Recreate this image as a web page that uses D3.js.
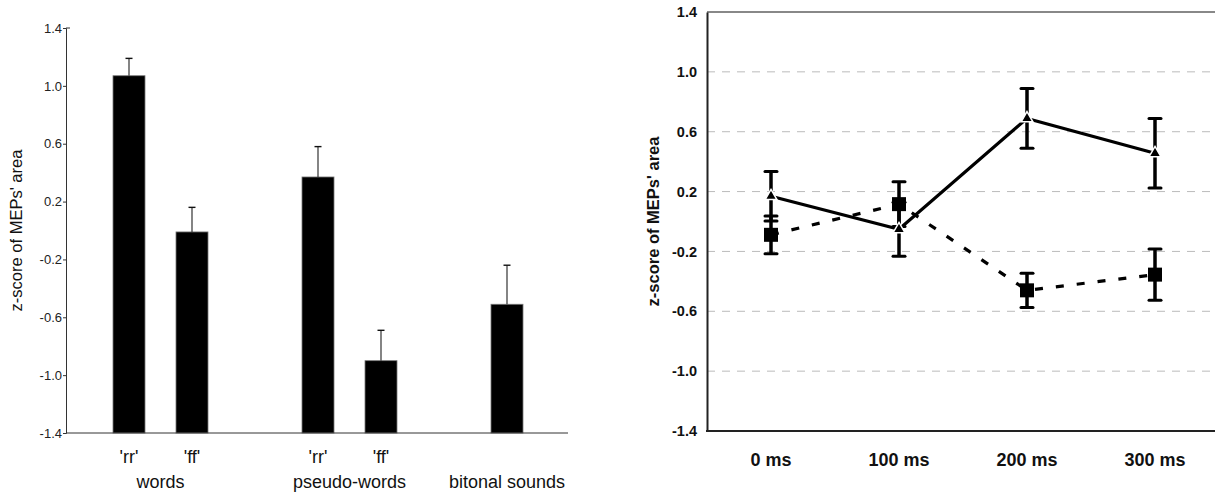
<!DOCTYPE html>
<html>
<head>
<meta charset="utf-8">
<script src="https://cdn.jsdelivr.net/npm/d3@7"></script>
<style>
  body { margin: 0; background: #fff; }
  svg { display: block; }
</style>
</head>
<body>
<svg id="chart" width="1215" height="495"></svg>
<script>
// left panel: bar chart (words / pseudo-words / bitonal sounds)
var slots = ["w_rr", "w_ff", "gap1", "p_rr", "p_ff", "gap2", "bitonal"];
var barKeys = ["w_rr", "w_ff", "p_rr", "p_ff", "bitonal"];
var barTicks = ["'rr'", "'ff'", "'rr'", "'ff'", ""];
var barValues = [1.07, -0.01, 0.37, -0.90, -0.51];
var barErrors = [0.12, 0.17, 0.21, 0.21, 0.27];
var groupNames = ["words", "pseudo-words", "bitonal sounds"];
var groupMembers = [["w_rr", "w_ff"], ["p_rr", "p_ff"], ["bitonal"]];
var yTicks = [-1.4, -1.0, -0.6, -0.2, 0.2, 0.6, 1.0, 1.4];

// right panel: line chart over time
var times = ["0 ms", "100 ms", "200 ms", "300 ms"];
var triMean = [0.169, -0.052, 0.689, 0.456];
var triErr = [0.165, 0.18, 0.2, 0.232];
var sqMean = [-0.089, 0.116, -0.46, -0.355];
var sqErr = [0.126, 0.15, 0.115, 0.172];

var svg = d3.select("#chart");
// plain hyphen for negatives, like the original
var fmt = function(v) { return v.toFixed(1); };

// ---------- left ----------
var L = svg.append("g");
var xL = d3.scalePoint().domain(slots).range([66, 570]).padding(1);
var yL = d3.scaleLinear().domain([-1.4, 1.4]).range([433, 28]);
var bw = 32;

var bars = barKeys.map(function(k, i) {
  return { key: k, tick: barTicks[i], v: barValues[i], e: barErrors[i] };
});

L.selectAll("rect.bar").data(bars).enter().append("rect")
  .attr("x", function(d) { return xL(d.key) - bw / 2; })
  .attr("y", function(d) { return yL(d.v); })
  .attr("width", bw)
  .attr("height", function(d) { return yL(-1.4) - yL(d.v); })
  .attr("fill", "#000")
  .attr("stroke", "#777")
  .attr("stroke-width", 0.8);

L.selectAll("line.err").data(bars).enter().append("line")
  .attr("x1", function(d) { return xL(d.key); })
  .attr("x2", function(d) { return xL(d.key); })
  .attr("y1", function(d) { return yL(d.v); })
  .attr("y2", function(d) { return yL(d.v + d.e); })
  .attr("stroke", "#333").attr("stroke-width", 1.2);
L.selectAll("line.cap").data(bars).enter().append("line")
  .attr("x1", function(d) { return xL(d.key) - 3.5; })
  .attr("x2", function(d) { return xL(d.key) + 3.5; })
  .attr("y1", function(d) { return yL(d.v + d.e); })
  .attr("y2", function(d) { return yL(d.v + d.e); })
  .attr("stroke", "#111").attr("stroke-width", 1.4);

var axL = L.append("g").attr("transform", "translate(66,0)")
  .call(d3.axisLeft(yL).tickValues(yTicks).tickSize(3).tickPadding(1)
    .tickFormat(fmt));
axL.select(".domain").attr("stroke", "#333");
axL.selectAll(".tick line").attr("stroke", "#333");
axL.selectAll("text").attr("font-family", "Liberation Sans, Arial, sans-serif")
  .attr("font-size", 13).attr("fill", "#222");
// small inward nub at the top of the axis
L.append("line").attr("x1", 66).attr("x2", 70).attr("y1", yL(1.4)).attr("y2", yL(1.4))
  .attr("stroke", "#333");

L.append("line").attr("x1", 66).attr("x2", 568)
  .attr("y1", yL(-1.4)).attr("y2", yL(-1.4))
  .attr("stroke", "#333").attr("stroke-width", 1);

L.selectAll("text.tk").data(bars).enter().append("text")
  .attr("x", function(d) { return xL(d.key); })
  .attr("y", 463)
  .attr("text-anchor", "middle")
  .attr("font-family", "Liberation Sans, Arial, sans-serif")
  .attr("font-size", 18).attr("fill", "#111")
  .text(function(d) { return d.tick; });

L.selectAll("text.grp").data(groupNames).enter().append("text")
  .attr("x", function(d, i) { return d3.mean(groupMembers[i], function(k) { return xL(k); }); })
  .attr("y", 488)
  .attr("text-anchor", "middle")
  .attr("font-family", "Liberation Sans, Arial, sans-serif")
  .attr("font-size", 18).attr("fill", "#111")
  .text(function(d) { return d; });

L.append("text")
  .attr("transform", "translate(22," + ((yL(1.4) + yL(-1.4)) / 2) + ") rotate(-90)")
  .attr("text-anchor", "middle")
  .attr("font-family", "Liberation Sans, Arial, sans-serif")
  .attr("font-size", 16.5).attr("fill", "#111")
  .text("z-score of MEPs' area");

// ---------- right ----------
var R = svg.append("g");
var xR = d3.scaleBand().domain(times).range([707, 1219]);
var yR = d3.scaleLinear().domain([-1.4, 1.4]).range([431, 12]);
var cx = function(t) { return xR(t) + xR.bandwidth() / 2; };

// dashed grid
R.selectAll("line.grid").data(yTicks.filter(function(v) { return v > -1.4 && v < 1.4; }))
  .enter().append("line")
  .attr("x1", 707).attr("x2", 1219)
  .attr("y1", function(d) { return yR(d); }).attr("y2", function(d) { return yR(d); })
  .attr("stroke", "#bbb").attr("stroke-width", 1).attr("stroke-dasharray", "8,7");

R.append("line").attr("x1", 707).attr("x2", 1219).attr("y1", yR(1.4)).attr("y2", yR(1.4))
  .attr("stroke", "#888").attr("stroke-width", 2);

var axR = R.append("g").attr("transform", "translate(707,0)")
  .call(d3.axisLeft(yR).tickValues(yTicks).tickSize(0).tickPadding(10)
    .tickFormat(fmt));
axR.select(".domain").attr("stroke", "#222").attr("stroke-width", 2);
axR.selectAll("text").attr("font-family", "Liberation Sans, Arial, sans-serif")
  .attr("font-size", 14.5).attr("font-weight", "bold").attr("fill", "#111");

R.append("line").attr("x1", 706).attr("x2", 1219).attr("y1", yR(-1.4)).attr("y2", yR(-1.4))
  .attr("stroke", "#222").attr("stroke-width", 2);

R.selectAll("text.time").data(times).enter().append("text")
  .attr("x", function(d) { return cx(d); })
  .attr("y", 466)
  .attr("text-anchor", "middle")
  .attr("font-family", "Liberation Sans, Arial, sans-serif")
  .attr("font-size", 18).attr("font-weight", "bold").attr("fill", "#111")
  .text(function(d) { return d; });

R.append("text")
  .attr("transform", "translate(659," + ((yR(1.4) + yR(-1.4)) / 2) + ") rotate(-90)")
  .attr("text-anchor", "middle")
  .attr("font-family", "Liberation Sans, Arial, sans-serif")
  .attr("font-size", 16.5).attr("font-weight", "bold").attr("fill", "#111")
  .text("z-score of MEPs' area");

var tri = times.map(function(t, i) { return { t: t, v: triMean[i], e: triErr[i] }; });
var sq = times.map(function(t, i) { return { t: t, v: sqMean[i], e: sqErr[i] }; });

var line = d3.line().x(function(d) { return cx(d.t); }).y(function(d) { return yR(d.v); });

R.append("path").datum(sq).attr("d", line)
  .attr("fill", "none").attr("stroke", "#000").attr("stroke-width", 3.2)
  .attr("stroke-dasharray", "8,13");
R.append("path").datum(tri).attr("d", line)
  .attr("fill", "none").attr("stroke", "#000").attr("stroke-width", 3.2);

function errorBars(data) {
  var g = R.append("g");
  g.selectAll("line.v").data(data).enter().append("line")
    .attr("x1", function(d) { return cx(d.t); }).attr("x2", function(d) { return cx(d.t); })
    .attr("y1", function(d) { return yR(d.v - d.e); }).attr("y2", function(d) { return yR(d.v + d.e); })
    .attr("stroke", "#000").attr("stroke-width", 3.5);
  [-1, 1].forEach(function(s) {
    g.selectAll("line.c" + s).data(data).enter().append("line")
      .attr("x1", function(d) { return cx(d.t) - 6; }).attr("x2", function(d) { return cx(d.t) + 6; })
      .attr("y1", function(d) { return yR(d.v + s * d.e); }).attr("y2", function(d) { return yR(d.v + s * d.e); })
      .attr("stroke", "#000").attr("stroke-width", 3).attr("stroke-linecap", "round");
  });
}
errorBars(sq);
errorBars(tri);

R.selectAll("rect.sq").data(sq).enter().append("rect")
  .attr("x", function(d) { return cx(d.t) - 7; })
  .attr("y", function(d) { return yR(d.v) - 7; })
  .attr("width", 14).attr("height", 14)
  .attr("fill", "#000");

R.selectAll("path.tri").data(tri).enter().append("path")
  .attr("transform", function(d) { return "translate(" + cx(d.t) + "," + yR(d.v) + ")"; })
  .attr("d", d3.symbol().type(d3.symbolTriangle).size(60))
  .attr("fill", "#000").attr("stroke", "#fff").attr("stroke-width", 1.5);
</script>
</body>
</html>
